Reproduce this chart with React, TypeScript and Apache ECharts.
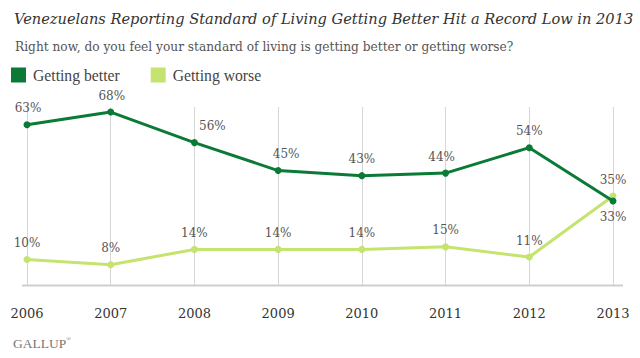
import React, { useEffect, useRef } from "react";
import * as echarts from "echarts";

const years = ["2006", "2007", "2008", "2009", "2010", "2011", "2012", "2013"];
const gettingBetter = [63, 68, 56, 45, 43, 44, 54, 33];
const gettingWorse = [10, 8, 14, 14, 14, 15, 11, 35];

const betterLabelOffsets: [number, number][] = [
  [1, 0], [1, 0], [18, 0], [8, 0], [0, 0], [-4, 0], [0, 0], [0, 0],
];

const SERIF = "DejaVu Serif";
const TIMES = "Liberation Serif";
const DARK = "#0b7a36";
const LIGHT = "#c4e46f";

export default function App() {
  const ref = useRef<HTMLDivElement>(null);
  useEffect(() => {
    if (!ref.current) return;
    const chart = echarts.init(ref.current, null, { renderer: "svg" });
    const labelStyle = {
      show: true,
      position: "top",
      distance: 7,
      formatter: "{c}%",
      fontFamily: SERIF,
      fontSize: 12,
      color: "#555",
    };
    chart.setOption({
      animation: false,
      textStyle: { fontFamily: SERIF },
      title: [
        {
          text: "Venezuelans Reporting Standard of Living Getting Better Hit a Record Low in 2013",
          left: 9,
          top: 6,
          textStyle: { fontFamily: SERIF, fontStyle: "italic", fontWeight: "normal", fontSize: 14.6, color: "#333" },
        },
        {
          text: "Right now, do you feel your standard of living is getting better or getting worse?",
          left: 10,
          top: 36,
          textStyle: { fontFamily: SERIF, fontWeight: "normal", fontSize: 12.2, color: "#555" },
        },
        {
          text: "GALLUP{r|®}",
          left: 8,
          top: 331,
          textStyle: {
            fontFamily: TIMES, fontWeight: "normal", fontSize: 13.5, color: "#777",
            rich: { r: { fontFamily: TIMES, fontSize: 6, color: "#777", verticalAlign: "top", padding: [0, 0, 6, 0] } },
          },
        },
      ],
      legend: {
        left: 11,
        top: 67,
        padding: 0,
        itemWidth: 15,
        itemHeight: 15,
        itemGap: 31,
        icon: "rect",
        textStyle: { fontFamily: TIMES, fontSize: 15.7, color: "#444", padding: [0, 0, 0, 2] },
        data: ["Getting better", "Getting worse"],
      },
      grid: { left: 27, right: 27, top: 107, bottom: 73 },
      xAxis: {
        type: "category",
        data: years,
        boundaryGap: false,
        axisLine: { show: false },
        axisTick: { show: false },
        axisLabel: { fontFamily: SERIF, fontSize: 13, color: "#333", margin: 22 },
        splitLine: { show: true, lineStyle: { color: "#d6d6d6", width: 1 } },
      },
      yAxis: {
        type: "value",
        min: 0,
        max: 70,
        show: false,
        splitLine: { show: false },
      },
      graphic: [
        {
          type: "line",
          shape: { x1: 22, y1: 285.5, x2: 623, y2: 285.5 },
          style: { stroke: "#cfcfcf", lineWidth: 2 },
          z: 1,
        },
      ],
      series: [
        {
          name: "Getting worse",
          type: "line",
          data: gettingWorse,
          color: LIGHT,
          lineStyle: { width: 3, color: LIGHT },
          symbol: "circle",
          symbolSize: 7,
          itemStyle: { color: LIGHT },
          z: 3,
          label: labelStyle,
        },
        {
          name: "Getting better",
          type: "line",
          data: gettingBetter.map((v, i) => ({
            value: v,
            label:
              i === gettingBetter.length - 1
                ? { position: "bottom", distance: 6 }
                : { offset: betterLabelOffsets[i] },
          })),
          color: DARK,
          lineStyle: { width: 3, color: DARK },
          symbol: "circle",
          symbolSize: 7,
          itemStyle: { color: DARK },
          z: 4,
          label: labelStyle,
        },
      ],
    });
    return () => chart.dispose();
  }, []);
  return <div ref={ref} style={{ width: 640, height: 358, position: "absolute", left: 0, top: 0 }} />;
}
